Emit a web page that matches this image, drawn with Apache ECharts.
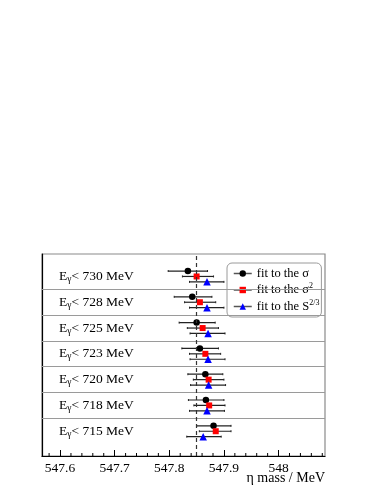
<!DOCTYPE html>
<html><head><meta charset="utf-8">
<script src="https://cdn.jsdelivr.net/npm/echarts@6/dist/echarts.min.js"></script>
<style>html,body{margin:0;padding:0;background:#fff}#c{width:382px;height:494px}</style>
</head><body><div id="c"></div>
<script>
// rows from top to bottom
const cuts = ['730', '728', '725', '723', '720', '718', '715'];
const rowIndex = [6, 5, 4, 3, 2, 1, 0];
// fit to the sigma (black)
const sigVal = [547.834, 547.842, 547.850, 547.856, 547.866, 547.867, 547.881];
const sigLo  = [547.798, 547.809, 547.818, 547.823, 547.834, 547.835, 547.850];
const sigHi  = [547.870, 547.878, 547.884, 547.890, 547.898, 547.900, 547.913];
// fit to the sigma^2 (red)
const sig2Val = [547.850, 547.856, 547.861, 547.866, 547.872, 547.873, 547.885];
const sig2Lo  = [547.824, 547.828, 547.833, 547.837, 547.844, 547.845, 547.855];
const sig2Hi  = [547.881, 547.885, 547.890, 547.894, 547.900, 547.902, 547.913];
// fit to the S^(2/3) (blue)
const sVal = [547.869, 547.869, 547.871, 547.871, 547.872, 547.869, 547.862];
const sLo  = [547.837, 547.837, 547.838, 547.838, 547.839, 547.837, 547.832];
const sHi  = [547.900, 547.900, 547.902, 547.902, 547.903, 547.901, 547.895];
const refLine = 547.85;
const separators = [0.5, 1.5, 2.5, 3.5, 4.5, 5.5];
const minorTicks = [547.58,547.62,547.64,547.66,547.68,547.72,547.74,547.76,547.78,547.82,547.84,547.86,547.88,547.92,547.94,547.96,547.98,548.02,548.04,548.06,548.08];
const xMin = 547.567, xMax = 548.085, yMin = -0.96, yMax = 6.87;
const offsets = [0.21, 0, -0.21];

const FONT = '"Liberation Serif", "DejaVu Serif", serif';
const names = ['fit to the σ', 'fit to the σ^2', 'fit to the S^2/3'];
const colors = ['#000000', '#ff0000', '#0000ff'];
const symbols = ['circle', 'rect', 'triangle'];
const sizes = [6.5, 6, 7.5];
const vals = [sigVal, sig2Val, sVal], los = [sigLo, sig2Lo, sLo], his = [sigHi, sig2Hi, sHi];

const series = [];
// row labels (custom text)
series.push({
  type: 'custom', silent: true,
  data: cuts.map((c, i) => [xMin, rowIndex[i], c]),
  encode: {x: 0, y: 1},
  renderItem: (params, api) => {
    const p = api.coord([xMin, api.value(1)]);
    const cut = cuts[params.dataIndex];
    return {
      type: 'text', x: p[0] + 17, y: p[1],
      style: {
        text: '{e|E}{s|γ}{e|< ' + cut + ' MeV}',
        verticalAlign: 'middle', align: 'left',
        rich: {
          e: {fontFamily: FONT, fontSize: 13.5, fill: '#000', lineHeight: 16},
          s: {fontFamily: FONT, fontSize: 9.5, fill: '#000', lineHeight: 10, verticalAlign: 'bottom'}
        }
      }
    };
  },
  markLine: {
    silent: true, symbol: 'none', label: {show: false}, animation: false,
    data: separators.map(v => ({yAxis: v, lineStyle: {color: '#9a9a9a', width: 1.2, type: 'solid'}}))
      .concat([{xAxis: refLine, lineStyle: {color: '#333', width: 1.2, type: [4, 3]}}])
  },
  z: 1
});
// minor ticks
series.push({
  type: 'custom', silent: true, data: minorTicks.map(v => [v]),
  encode: {x: 0},
  renderItem: (params, api) => {
    const p = api.coord([api.value(0), yMin]);
    return {type: 'line', shape: {x1: p[0], y1: p[1], x2: p[0], y2: p[1] - 3}, style: {stroke: '#000', lineWidth: 1}};
  },
  z: 5
});
// error bars
for (let k = 0; k < 3; k++) {
  series.push({
    type: 'custom', silent: true,
    data: cuts.map((c, i) => [los[k][i], his[k][i], rowIndex[i] + offsets[k]]),
    encode: {x: [0, 1], y: 2},
    renderItem: (params, api) => {
      const a = api.coord([api.value(0), api.value(2)]);
      const b = api.coord([api.value(1), api.value(2)]);
      return {type: 'group', children: [
        {type: 'line', shape: {x1: a[0], y1: a[1], x2: b[0], y2: b[1]}, style: {stroke: '#222', lineWidth: 1.2}},
        {type: 'line', shape: {x1: a[0], y1: a[1] - 1, x2: a[0], y2: a[1] + 1}, style: {stroke: '#222', lineWidth: 1}},
        {type: 'line', shape: {x1: b[0], y1: b[1] - 1, x2: b[0], y2: b[1] + 1}, style: {stroke: '#222', lineWidth: 1}}
      ]};
    },
    z: 2
  });
}
// markers
for (let k = 0; k < 3; k++) {
  series.push({
    name: names[k], type: 'line', symbol: symbols[k], symbolSize: sizes[k], showSymbol: true,
    lineStyle: {width: 0, opacity: 0}, itemStyle: {color: colors[k]},
    data: cuts.map((c, i) => [vals[k][i], rowIndex[i] + offsets[k]]),
    animation: false, silent: true, z: 3
  });
}

const chart = echarts.init(document.getElementById('c'));
chart.setOption({
  animation: false,
  backgroundColor: '#fff',
  grid: {left: 42, right: 57, top: 254, bottom: 38, show: true, borderColor: '#8a8a8a', borderWidth: 1.2},
  xAxis: {
    type: 'value', min: xMin, max: xMax,
    axisLine: {onZero: false, lineStyle: {color: '#000', width: 1.2}},
    axisTick: {inside: true, length: 6, lineStyle: {color: '#000', width: 1}},
    splitLine: {show: false},
    axisLabel: {showMinLabel: false, showMaxLabel: false, margin: 5, fontFamily: FONT, fontSize: 13.5, color: '#000',
      formatter: v => String(Math.round(v * 10) / 10)}
  },
  yAxis: {
    type: 'value', min: yMin, max: yMax,
    axisLine: {show: true, onZero: false, lineStyle: {color: '#000', width: 1.2}},
    axisTick: {show: false}, axisLabel: {show: false}, splitLine: {show: false}
  },
  legend: {
    orient: 'vertical', left: 227, top: 263,
    padding: [4, 2, 4, 6], itemGap: 2, itemWidth: 18, itemHeight: 8,
    borderColor: '#9a9a9a', borderWidth: 1, borderRadius: 5, backgroundColor: '#fff',
    data: names.map((n, k) => ({name: n, lineStyle: {color: '#555', width: 1.5, opacity: 1}})),
    formatter: n => {
      const parts = n.split('^');
      return '{b|' + parts[0] + '}' + (parts[1] ? '{sup|' + parts[1] + '}' : '');
    },
    textStyle: {
      rich: {
        b: {fontFamily: FONT, fontSize: 12.5, color: '#000', lineHeight: 16},
        sup: {fontFamily: FONT, fontSize: 8, color: '#000', lineHeight: 9, verticalAlign: 'top'}
      }
    }
  },
  graphic: [{
    type: 'text', right: 57, top: 471,
    style: {text: 'η mass / MeV', font: '14px ' + FONT, fill: '#000'}
  }],
  series: series
});
</script></body></html>
